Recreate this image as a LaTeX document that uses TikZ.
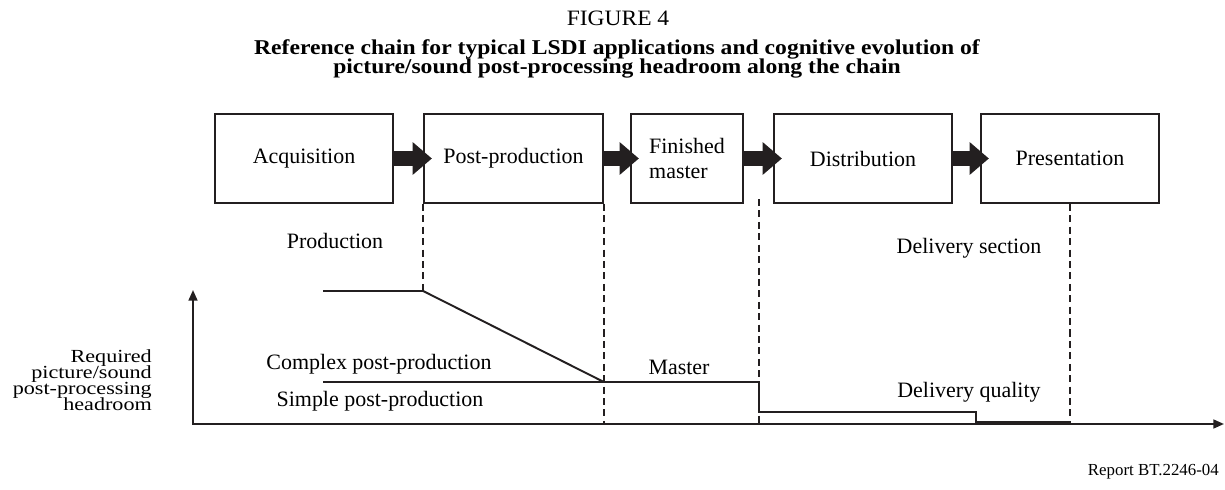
\documentclass[tikz,border=0pt]{standalone}
\usepackage{fontspec}
\setmainfont{Liberation Serif}
\usetikzlibrary{arrows.meta, positioning}
\definecolor{chaindark}{RGB}{35,31,32}

\begin{document}
\begin{tikzpicture}[
    x=0.02cm, y=-0.02cm,
    stage/.style={
        rectangle, draw=chaindark,
        line width=1pt,
        minimum width=3.56cm,
        minimum height=1.78cm,
        font=\fontsize{12.5}{14}\selectfont
    },
    blockarrow/.style={
        draw=chaindark, line width=8pt,
        -{Triangle[length=11pt, width=18pt]},
        shorten >=-5pt
    },
    dashline/.style={draw=chaindark, line width=1pt,
        dash pattern=on 4pt off 2.5pt},
    curve/.style={draw=chaindark, line width=1.1pt},
    txt/.style={font=\fontsize{12.5}{14}\selectfont}
]
\useasboundingbox (0,0) rectangle (1225,490);

% heading
\node[font=\fontsize{12.5}{15}\selectfont\addfontfeatures{FakeStretch=1.07}]
    (fig) at (618,18) {FIGURE 4};
\node[font=\bfseries\fontsize{12}{10.9}\selectfont\addfontfeatures{FakeStretch=1.12}%
        \setlength{\lineskiplimit}{-20pt},
    align=center]
    (title) at (617,59)
    {Reference chain for typical LSDI applications and cognitive evolution of\\
     picture/sound post-processing headroom along the chain};

% chain
\node[stage] (acq) at (304,158.5) {Acquisition};
\node[stage, minimum width=3.58cm] (post) at (513.5,158.5) {Post-production};
\node[stage, minimum width=2.24cm, align=left] (fin) at (687,158.5)
    {Finished\\master};
\node[stage] (dist) at (863,158.5) {Distribution};
\node[stage] (pres) at (1070,158.5) {Presentation};

\foreach \a/\b in {acq/post,post/fin,fin/dist,dist/pres}{
    \draw[blockarrow] (\a) -- (\b);
}

% axes
\coordinate (orig) at (193,424);
\coordinate (ytop) at (193,290);
\coordinate (xend) at (1224,424);
\draw[draw=chaindark, line width=1.1pt,
    {Triangle[length=6pt, width=5pt]}-{Triangle[length=6pt, width=5pt]}]
    (ytop) -- (orig) -- (xend);

% headroom levels
\coordinate (hiA) at (323,291);
\coordinate (hiB) at (post.south west |- hiA);
\coordinate (loA) at (323,382);
\coordinate (loB) at (post.south east |- loA);
\coordinate (mEnd) at (759,382);
\coordinate (dq1) at (759,412);
\coordinate (dq2) at (976,412);
\coordinate (dq3) at (976,422);
\coordinate (dq4) at (pres.south |- dq3);
\draw[curve] (hiA) -- (hiB) -- (loB);
\draw[curve] (loA) -- (loB) -- (mEnd) -- (dq1) -- (dq2) -- (dq3) -- (dq4);

% section borders
\coordinate (mTop) at (759,199);
\draw[dashline] (post.south west) -- (hiB);
\draw[dashline] (post.south east) -- (post.south east |- orig);
\draw[dashline] (mTop) -- (mTop |- orig);
\draw[dashline] (pres.south) -- (pres.south |- orig);

% labels
\node[txt] (prod) at (335,241) {Production};
\node[txt] (dsec) at (969,248) {Delivery section};
\node[txt] (cplx) at (379,364) {Complex post-production};
\node[txt] (smpl) at (380,401) {Simple post-production};
\node[txt] (mst) at (679,367) {Master};
\node[txt] (dqual) at (969,392) {Delivery quality};
\node[anchor=east, align=right,
    font=\fontsize{10.5}{9}\selectfont\addfontfeatures{FakeStretch=1.2}%
        \setlength{\lineskiplimit}{-20pt}]
    (ylab) at (158,380)
    {Required\\picture/sound\\post-processing\\headroom};

\node[anchor=east, font=\fontsize{9.6}{11}\selectfont] (rep) at (1225,472)
    {Report BT.2246-04};
\end{tikzpicture}
\end{document}
